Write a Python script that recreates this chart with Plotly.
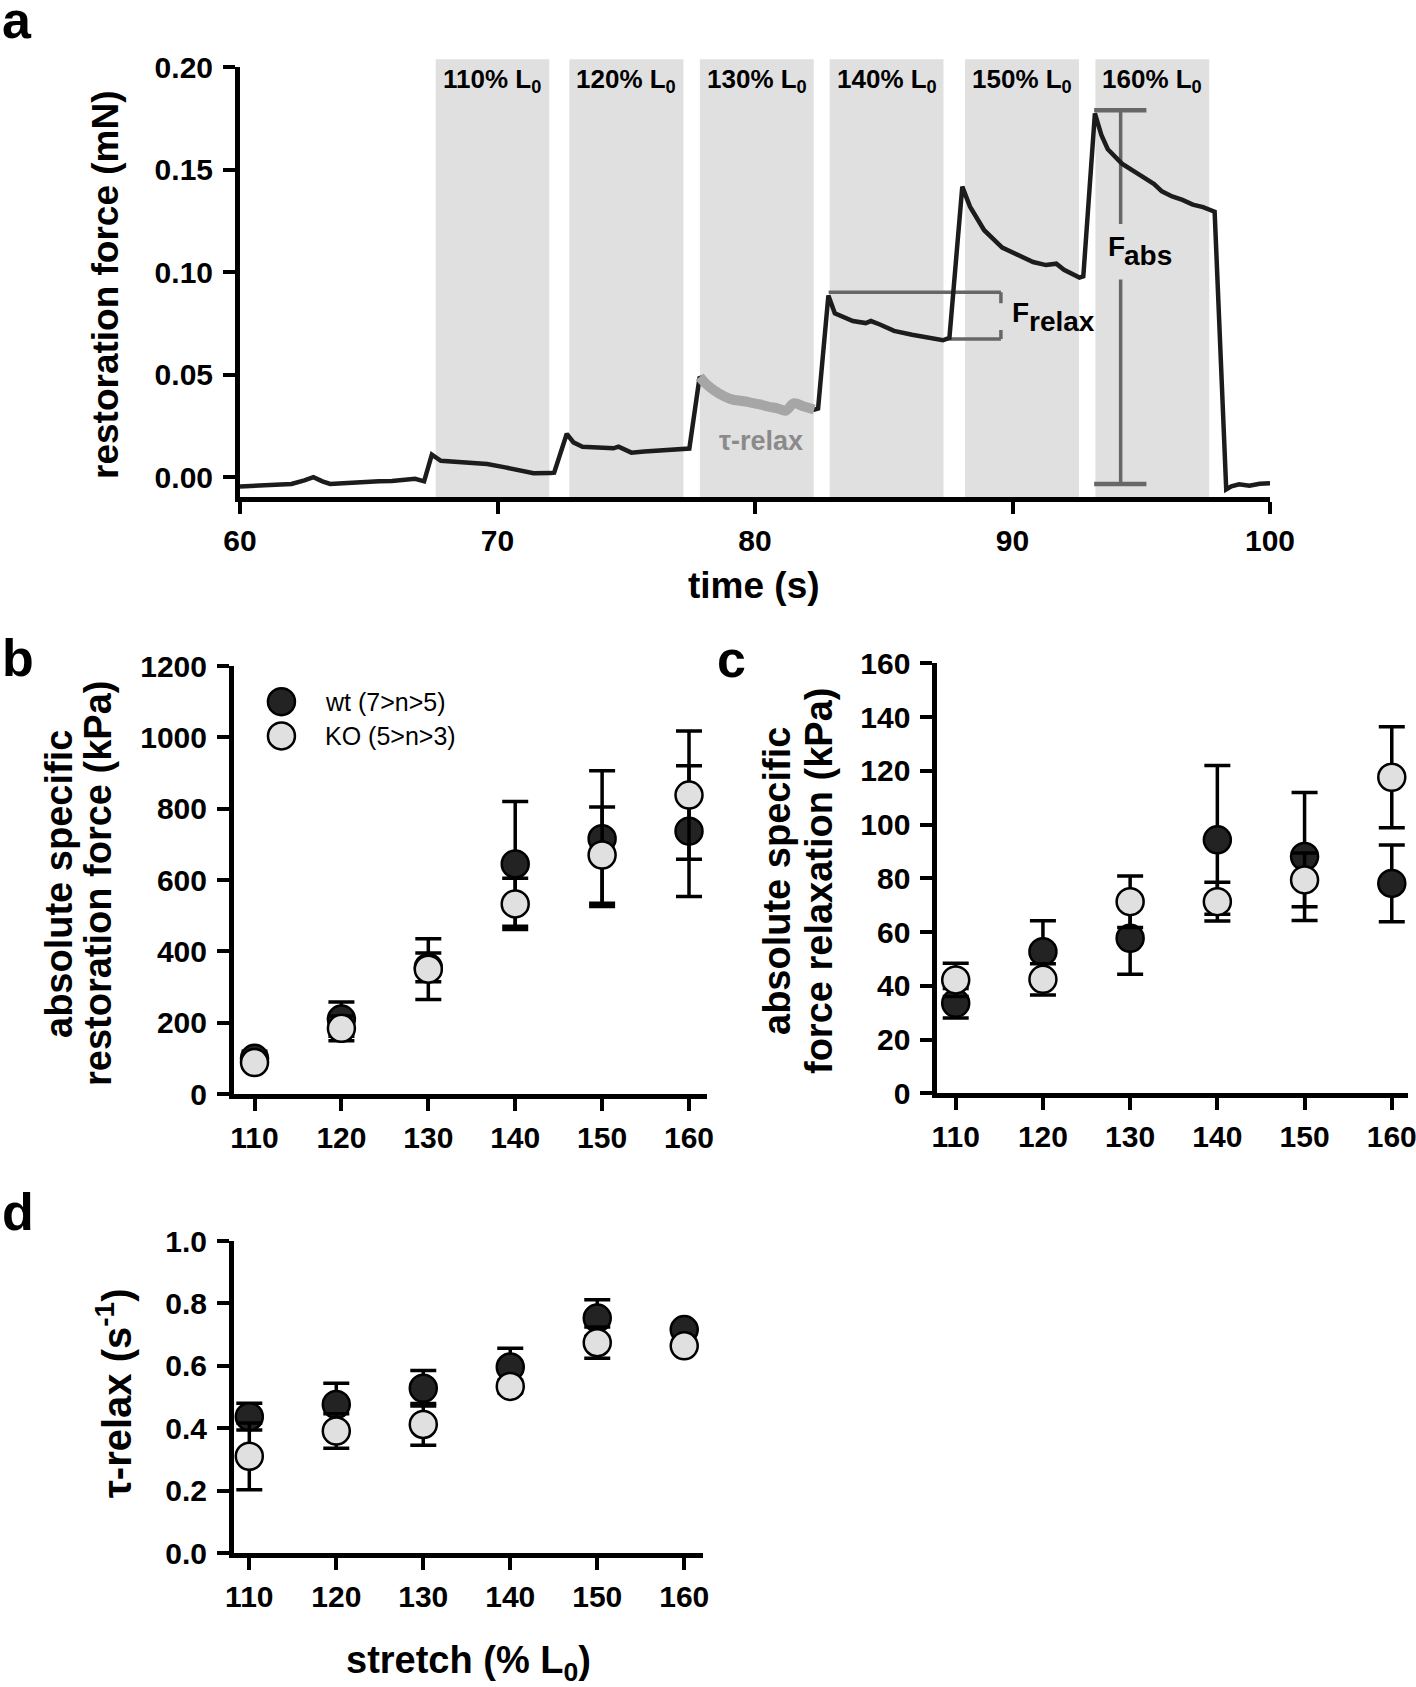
import plotly.graph_objects as go

# ---------------- data ----------------
# panel a: restoration force trace (time in s, force in mN)
time_s = [60.0, 60.5, 61.0, 61.5, 62.0, 62.5, 62.85, 63.2, 63.5, 64.0, 64.5, 65.0, 65.4, 65.9,
          66.4, 66.8, 67.15, 67.45, 67.8, 68.2, 68.9, 69.6, 70.3, 70.9, 71.4, 72.06, 72.2,
          72.69, 72.95, 73.3, 73.9, 74.5, 74.7, 75.2, 75.7, 76.3, 76.8, 77.3, 77.45, 77.85,
          78.1, 78.4, 78.8, 79.1, 79.5, 79.8, 80.2, 80.5, 80.9, 81.2, 81.5, 81.9, 82.3, 82.45,
          82.85, 83.1, 83.5, 83.8, 84.3, 84.5, 84.85, 85.4, 86.1, 86.8, 87.3, 87.55, 88.05,
          88.35, 88.9, 89.6, 90.3, 90.8, 91.3, 91.7, 92.0, 92.3, 92.6, 92.75, 93.2, 93.45,
          93.7, 94.25, 94.6, 95.0, 95.5, 95.8, 96.2, 96.6, 97.0, 97.4, 97.85, 98.3, 98.5,
          98.8, 99.2, 99.6, 100.0]
force_mN = [-0.0045, -0.0042, -0.0038, -0.0036, -0.0033, -0.0015, 0.0, -0.002, -0.0033, -0.003,
            -0.0025, -0.0022, -0.002, -0.0018, -0.0012, -0.0008, -0.002, 0.011, 0.008, 0.0077,
            0.007, 0.0064, 0.0048, 0.003, 0.0019, 0.002, 0.0022, 0.0212, 0.017, 0.0149, 0.0145,
            0.0141, 0.0149, 0.012, 0.0125, 0.013, 0.0132, 0.0139, 0.014, 0.049, 0.0455, 0.0425,
            0.0395, 0.038, 0.0372, 0.0365, 0.0355, 0.0345, 0.0335, 0.0325, 0.036, 0.0345, 0.033,
            0.0335, 0.0887, 0.080, 0.0775, 0.0762, 0.0752, 0.0762, 0.0745, 0.0714, 0.0695,
            0.0676, 0.0668, 0.068, 0.1418, 0.132, 0.1205, 0.112, 0.108, 0.105, 0.1035, 0.1042,
            0.1012, 0.0993, 0.0974, 0.098, 0.1775, 0.167, 0.160, 0.153, 0.150, 0.147, 0.143,
            0.1395, 0.137, 0.1353, 0.133, 0.1318, 0.1295, -0.006, -0.0045, -0.0035, -0.0042,
            -0.0032, -0.003]
# tau-relax fit (grey thick line)
tau_t = [77.85, 78.1, 78.4, 78.8, 79.1, 79.5, 79.8, 80.2, 80.5, 80.9, 81.2, 81.5, 81.9, 82.3]
tau_v = [0.049, 0.0455, 0.0425, 0.0395, 0.038, 0.0372, 0.0365, 0.0355, 0.0345, 0.0335, 0.0325,
         0.036, 0.0345, 0.033]
# stretch bands
band_labels = ["110% L<sub>0</sub>", "120% L<sub>0</sub>", "130% L<sub>0</sub>",
               "140% L<sub>0</sub>", "150% L<sub>0</sub>", "160% L<sub>0</sub>"]
band_start = [67.6, 72.79, 77.86, 82.90, 88.16, 93.22]
band_end = [72.01, 77.22, 82.28, 87.32, 92.58, 97.64]
# F_relax bracket (time, force)
frelax_t = [82.86, 87.48, 89.55]
frelax_v = [0.0903, 0.0674]
# F_abs bar
fabs_t = [93.17, 94.2, 95.2]
fabs_v = [-0.0033, 0.0965, 0.1235, 0.179]

# panels b-d
stretch = [110, 120, 130, 140, 150, 160]
b_wt = [100, 210, 355, 645, 716, 737]
b_wt_err = [20, 48, 40, 175, 190, 183]
b_ko = [88, 184, 350, 533, 670, 838]
b_ko_err = [15, 35, 85, 72, 135, 180]

c_wt = [33.5, 52.7, 57.7, 94.3, 88.1, 78.1]
c_wt_err = [5.5, 11.5, 13.4, 27.7, 23.8, 14.3]
c_ko = [42.2, 42.4, 71.3, 71.3, 79.4, 117.6]
c_ko_err = [6.2, 5.8, 9.6, 7.2, 10.0, 18.8]

d_wt = [0.437, 0.476, 0.528, 0.596, 0.753, 0.716]
d_wt_err = [0.043, 0.068, 0.057, 0.06, 0.059, 0.01]
d_ko = [0.310, 0.391, 0.412, 0.534, 0.674, 0.664]
d_ko_err = [0.107, 0.055, 0.067, 0.02, 0.05, 0.015]

legend_names = ["wt (7>n>5)", "KO (5>n>3)"]

# ---------------- layout helpers ----------------
W, H = 1416, 1687


def px(x):
    return x / W


def py(y):
    return 1 - y / H


FONT = "Liberation Sans, Arial, sans-serif"
WT_COLOR = "#232323"
KO_COLOR = "#e0e0e0"

fig = go.Figure()

# panel a
fig.add_trace(go.Scatter(x=time_s, y=force_mN, mode="lines",
                         line=dict(color="#1c1c1c", width=4.5),
                         xaxis="x", yaxis="y", showlegend=False, hoverinfo="skip"))
fig.add_trace(go.Scatter(x=tau_t, y=tau_v, mode="lines",
                         line=dict(color="#a6a6a6", width=10, shape="spline"),
                         xaxis="x", yaxis="y", showlegend=False, hoverinfo="skip"))

# panels b, c, d
panels = [("x2", "y2", b_wt, b_wt_err, b_ko, b_ko_err),
          ("x3", "y3", c_wt, c_wt_err, c_ko, c_ko_err),
          ("x4", "y4", d_wt, d_wt_err, d_ko, d_ko_err)]
for xa, ya, wt, wte, ko, koe in panels:
    for vals, errs, col, name in [(wt, wte, WT_COLOR, legend_names[0]),
                                  (ko, koe, KO_COLOR, legend_names[1])]:
        fig.add_trace(go.Scatter(
            x=stretch, y=vals, mode="markers", name=name, xaxis=xa, yaxis=ya,
            marker=dict(size=27, color=col, line=dict(color="black", width=2.5)),
            error_y=dict(type="data", array=errs, visible=True, color="black",
                         thickness=3.5, width=13),
            cliponaxis=False, showlegend=False))

# custom legend in panel b
fig.add_trace(go.Scatter(x=[113.1, 113.1], y=[1100, 1004], mode="markers", xaxis="x2", yaxis="y2",
                         marker=dict(size=27, color=[WT_COLOR, KO_COLOR],
                                     line=dict(color="black", width=2.5)),
                         showlegend=False, hoverinfo="skip", cliponaxis=False))

tickfont = dict(family=FONT, size=30, color="black", weight="bold")
common = dict(showline=True, linecolor="black", linewidth=5, ticks="outside", ticklen=12,
              tickwidth=4, tickcolor="black", showgrid=False, zeroline=False,
              tickfont=tickfont, fixedrange=True, automargin=False,
              ticklabeloverflow="allow")
XS, YS = 1, 4

layout = dict(
    width=W, height=H, margin=dict(l=0, r=0, t=0, b=0, pad=0, autoexpand=False),
    paper_bgcolor="white", plot_bgcolor="rgba(0,0,0,0)", showlegend=False,
    xaxis=dict(domain=[px(240), px(1270)], range=[60, 100], tickvals=[60, 70, 80, 90, 100],
               anchor="y", ticklabelstandoff=XS, **common),
    yaxis=dict(domain=[py(497.3), py(67.3)], range=[-0.0098, 0.2],
               tickvals=[0, 0.05, 0.10, 0.15, 0.20], tickformat=".2f", anchor="x",
               ticklabelstandoff=YS, **common),
    xaxis2=dict(domain=[px(234), px(707)], range=[107.64, 162.07], tickvals=stretch,
                anchor="y2", ticklabelstandoff=XS, **common),
    yaxis2=dict(domain=[py(1094), py(666)], range=[0, 1200],
                tickvals=[0, 200, 400, 600, 800, 1000, 1200], anchor="x2",
                ticklabelstandoff=YS, **common),
    xaxis3=dict(domain=[px(937.4), px(1408)], range=[107.9, 161.86], tickvals=stretch,
                anchor="y3", ticklabelstandoff=XS, **common),
    yaxis3=dict(domain=[py(1093.3), py(663.3)], range=[0, 160],
                tickvals=[0, 20, 40, 60, 80, 100, 120, 140, 160], anchor="x3",
                ticklabelstandoff=YS, **common),
    xaxis4=dict(domain=[px(234), px(702.5)], range=[108.24, 162.1], tickvals=stretch,
                anchor="y4", ticklabelstandoff=XS, **common),
    yaxis4=dict(domain=[py(1553), py(1241)], range=[0, 1.0],
                tickvals=[0, 0.2, 0.4, 0.6, 0.8, 1.0], tickformat=".1f", anchor="x4",
                ticklabelstandoff=YS, **common),
)

shapes = []
for s, e in zip(band_start, band_end):
    shapes.append(dict(type="rect", xref="x", yref="y domain", x0=s, x1=e, y0=0, y1=1.0186,
                       fillcolor="#e0e0e0", line=dict(width=0), layer="below"))
BR = dict(color="#676767", width=3.5)
# F_relax bracket
shapes += [
    dict(type="line", xref="x", yref="y", x0=frelax_t[0], x1=frelax_t[2], y0=frelax_v[0], y1=frelax_v[0], line=BR, layer="below"),
    dict(type="line", xref="x", yref="y", x0=frelax_t[2], x1=frelax_t[2], y0=frelax_v[0], y1=frelax_v[0] - 0.0054, line=BR, layer="below"),
    dict(type="line", xref="x", yref="y", x0=frelax_t[2], x1=frelax_t[2], y0=frelax_v[1], y1=frelax_v[1] + 0.0044, line=BR, layer="below"),
    dict(type="line", xref="x", yref="y", x0=frelax_t[1], x1=frelax_t[2], y0=frelax_v[1], y1=frelax_v[1], line=BR, layer="below"),
]
# F_abs bar
shapes += [
    dict(type="line", xref="x", yref="y", x0=fabs_t[0], x1=fabs_t[2], y0=fabs_v[3], y1=fabs_v[3], line=dict(color="#676767", width=4.5), layer="below"),
    dict(type="line", xref="x", yref="y", x0=fabs_t[0], x1=fabs_t[2], y0=fabs_v[0], y1=fabs_v[0], line=dict(color="#676767", width=4.5), layer="below"),
    dict(type="line", xref="x", yref="y", x0=fabs_t[1], x1=fabs_t[1], y0=fabs_v[0], y1=fabs_v[1], line=BR, layer="below"),
    dict(type="line", xref="x", yref="y", x0=fabs_t[1], x1=fabs_t[1], y0=fabs_v[2], y1=fabs_v[3], line=BR, layer="below"),
]
layout["shapes"] = shapes

ann = []


def text(x, y, t, size, xref="paper", yref="paper", xanchor="center", yanchor="top",
         bold=True, angle=0, color="black"):
    ann.append(dict(x=x, y=y, xref=xref, yref=yref, text=t, showarrow=False,
                    xanchor=xanchor, yanchor=yanchor, textangle=angle,
                    font=dict(family=FONT, size=size, color=color,
                              weight="bold" if bold else "normal")))


# band labels
for s, e, lab in zip(band_start, band_end, band_labels):
    text((s + e) / 2, py(62), lab, 26, xref="x", yref="paper")
# F_relax, F_abs, tau-relax labels
text(89.9, 0.0888, "F", 28, xref="x", yref="y", xanchor="left")
text(90.55, 0.0844, "relax", 28, xref="x", yref="y", xanchor="left")
text(93.63, 0.1209, "F", 28, xref="x", yref="y", xanchor="left")
text(94.25, 0.1165, "abs", 28, xref="x", yref="y", xanchor="left")
text(80.22, 0.0259, "τ-relax", 27, xref="x", yref="y", color="#8a8a8a")

# panel letters
text(0, py(-11), "a", 52, xanchor="left")
text(0, py(627), "b", 52, xanchor="left")
text(px(715), py(628), "c", 52, xanchor="left")
text(0, py(1181), "d", 52, xanchor="left")

# axis titles
text(px(754), py(563), "time (s)", 37)
text(px(105), py(285), "restoration force (mN)", 37, yanchor="middle", angle=-90)
text(px(59), py(884), "absolute specific", 38, yanchor="middle", angle=-90)
text(px(98), py(884), "restoration force (kPa)", 38, yanchor="middle", angle=-90)
text(px(777), py(881), "absolute specific", 38, yanchor="middle", angle=-90)
text(px(819), py(881), "force relaxation (kPa)", 38, yanchor="middle", angle=-90)
text(px(114), py(1393), "τ-relax (s<sup>-1</sup>)", 40, yanchor="middle", angle=-90)
text(px(468), py(1637), "stretch (% L<sub>0</sub>)", 38)

# legend texts
text(px(323), py(701.7), legend_names[0], 25, xanchor="left", yanchor="middle", bold=False)
text(px(323), py(736), legend_names[1], 25, xanchor="left", yanchor="middle", bold=False)

layout["annotations"] = ann
fig.update_layout(**layout)
fig.write_html("out.html", config={"displayModeBar": False, "staticPlot": True},
               post_script="document.body.style.margin='0';document.body.style.padding='0';"
                           "document.body.style.overflow='hidden';")
